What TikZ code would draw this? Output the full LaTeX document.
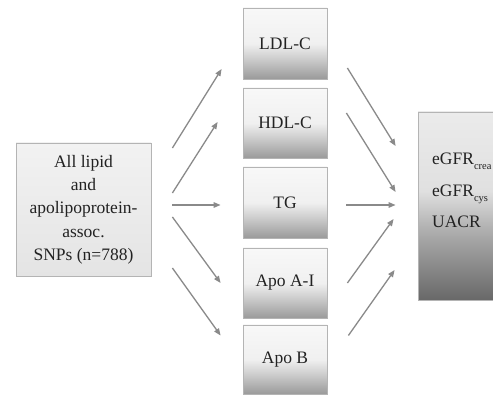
\documentclass[tikz,border=0pt]{standalone}
\usepackage{fontspec}
\setmainfont{Liberation Serif}
\usetikzlibrary{arrows.meta}
\definecolor{mbot}{HTML}{9A9A9A}
\definecolor{mmid}{HTML}{CFCFCF}
\definecolor{mlight}{HTML}{F0F0F0}
\definecolor{mtop}{HTML}{F8F8F8}
\definecolor{rbot}{HTML}{686868}
\definecolor{rmid}{HTML}{B0B0B0}
\definecolor{rlight}{HTML}{E0E0E0}
\definecolor{rtop}{HTML}{EBEBEB}
\definecolor{edgec}{HTML}{B4B4B4}
\definecolor{arrc}{HTML}{8A8A8A}
\definecolor{ltop}{HTML}{F2F2F2}
\definecolor{lbot}{HTML}{E4E4E4}
\definecolor{txtc}{HTML}{222222}
\pgfdeclareverticalshading{midshade}{100bp}{color(0bp)=(mbot); color(25bp)=(mbot); color(40bp)=(mmid); color(50bp)=(mlight); color(75bp)=(mtop); color(100bp)=(mtop)}
\pgfdeclareverticalshading{rightshade}{100bp}{color(0bp)=(rbot); color(25bp)=(rbot); color(44bp)=(rmid); color(54bp)=(rlight); color(75bp)=(rtop); color(100bp)=(rtop)}
\newcommand{\lowsub}[1]{\raisebox{-5pt}{\fontsize{10.5}{11}\selectfont #1}}
\tikzset{
  midbox/.style={draw=edgec, line width=0.8pt, shading=midshade, minimum width=84pt, inner sep=0pt, text=txtc, font=\fontsize{17.5}{21}\selectfont},
  leftbox/.style={draw=edgec, line width=0.8pt, top color=ltop, bottom color=lbot, minimum width=135pt, minimum height=133pt, inner sep=0pt, align=center, text=txtc, font=\fontsize{17.5}{23.3}\selectfont},
  rightbox/.style={draw=edgec, line width=0.8pt, shading=rightshade, minimum width=92pt, minimum height=188pt, inner sep=0pt},
  rlabel/.style={anchor=base west, inner sep=0pt, text=txtc, font=\fontsize{17.5}{21}\selectfont},
  arr/.style={draw=arrc, line width=1.3pt, -{Triangle[length=7pt,width=5.5pt]}}
}
\begin{document}
\begin{tikzpicture}[x=1pt,y=1pt]
\clip (0,0) rectangle (493,394);
\fill[white] (0,0) rectangle (493,394);
\node[leftbox] (src) at (83.5,184.5) {All lipid\\and\\apolipoprotein-\\assoc.\\SNPs (n=788)};
\node[midbox, minimum height=71pt] (ldl) at (285,350.5) {LDL-C};
\node[midbox, minimum height=70pt] (hdl) at (285,271) {HDL-C};
\node[midbox, minimum height=71pt] (tg) at (285,191.5) {TG};
\node[midbox, minimum height=70pt] (apoa) at (285,111) {Apo A-I};
\node[midbox, minimum height=69pt] (apob) at (285,34.5) {Apo B};
\node[rightbox] (out) at (464,188) {};
\node[rlabel] (l1) at (432,229) {eGFR\lowsub{crea}};
\node[rlabel] (l2) at (432,197) {eGFR\lowsub{cys}};
\node[rlabel] (l3) at (432,166) {UACR};
% left arrows
\draw[arr] ([xshift=21pt,yshift=61.5pt]src.east) -- ([xshift=-21pt,yshift=-25.5pt]ldl.west);
\draw[arr] ([xshift=21pt,yshift=16.5pt]src.east) -- ([xshift=-25pt,yshift=1pt]hdl.west);
\draw[arr] ([xshift=21pt,yshift=4.5pt]src.east) -- ([xshift=-22pt,yshift=-2.5pt]tg.west);
\draw[arr] ([xshift=21pt,yshift=-7.5pt]src.east) -- ([xshift=-22pt,yshift=0pt]apoa.west);
\draw[arr] ([xshift=21pt,yshift=-58.5pt]src.east) -- ([xshift=-22pt,yshift=24pt]apob.west);
% right arrows
\draw[arr] ([xshift=20pt,yshift=-24.5pt]ldl.east) -- ([xshift=-22pt,yshift=60pt]out.west);
\draw[arr] ([xshift=19pt,yshift=10pt]hdl.east) -- ([xshift=-22pt,yshift=14pt]out.west);
\draw[arr] ([xshift=19pt,yshift=-2.5pt]tg.east) -- ([xshift=-22pt,yshift=1pt]out.west);
\draw[arr] ([xshift=20pt,yshift=0pt]apoa.east) -- ([xshift=-24pt,yshift=-13pt]out.west);
\draw[arr] ([xshift=21pt,yshift=24pt]apob.east) -- ([xshift=-23pt,yshift=-64pt]out.west);
\end{tikzpicture}
\end{document}
